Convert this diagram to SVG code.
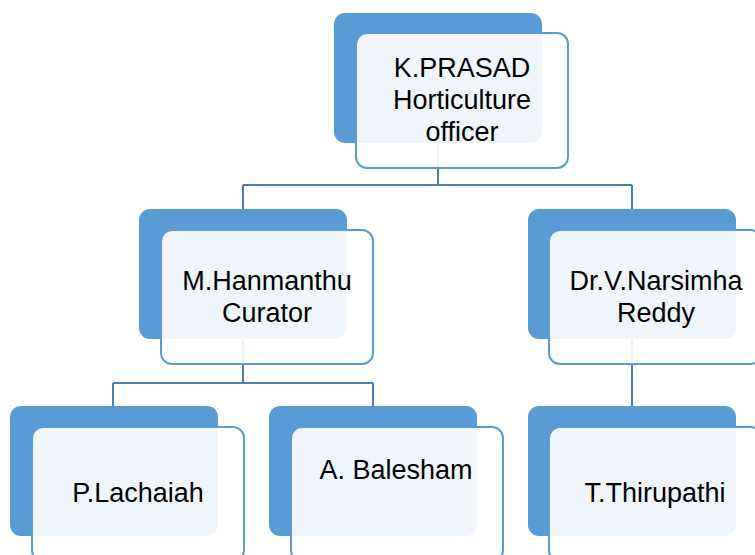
<svg xmlns="http://www.w3.org/2000/svg" width="755" height="555" viewBox="0 0 755 555">
<style>
.back{fill:#5B9BD5;}
.front{fill:#FFFFFF;fill-opacity:0.9;stroke:#5B9BD5;stroke-width:2;}
.conn{fill:none;stroke:#4A7EBB;stroke-width:2;}
text{font-family:"Liberation Sans",Arial,sans-serif;font-size:27px;fill:#000000;text-anchor:middle;}
</style>
<rect width="755" height="555" fill="#FFFFFF"/>
<g id="connectors">
<path class="conn" d="M438 143 V185 M243 185 H632 M243 185 V209 M632 185 V209"/>
<path class="conn" d="M243 339 V383 M113 383 H373 M113 383 V406 M373 383 V406"/>
<path class="conn" d="M632 339 V406"/>
</g>
<g id="n-prasad">
<rect class="back" x="334" y="13" width="208" height="130" rx="11"/>
<rect class="front" x="356" y="33" width="212" height="135" rx="11"/>
<text x="462" y="77">K.PRASAD</text>
<text x="462" y="109">Horticulture</text>
<text x="462" y="141">officer</text>
</g>
<g id="n-hanmanthu">
<rect class="back" x="139" y="209" width="208" height="130" rx="11"/>
<rect class="front" x="161" y="230" width="212" height="134" rx="11"/>
<text x="267" y="290">M.Hanmanthu</text>
<text x="267" y="322">Curator</text>
</g>
<g id="n-narsimha">
<rect class="back" x="528" y="209" width="208" height="130" rx="11"/>
<rect class="front" x="549" y="230" width="212" height="134" rx="11"/>
<text x="656" y="290">Dr.V.Narsimha</text>
<text x="656" y="322">Reddy</text>
</g>
<g id="n-lachaiah">
<rect class="back" x="10" y="406" width="208" height="130" rx="11"/>
<rect class="front" x="32" y="427" width="212" height="134" rx="11"/>
<text x="138" y="502">P.Lachaiah</text>
</g>
<g id="n-balesham">
<rect class="back" x="269" y="406" width="208" height="130" rx="11"/>
<rect class="front" x="291" y="427" width="212" height="134" rx="11"/>
<text x="396" y="479">A. Balesham</text>
</g>
<g id="n-thirupathi">
<rect class="back" x="528" y="406" width="208" height="130" rx="11"/>
<rect class="front" x="549" y="427" width="212" height="134" rx="11"/>
<text x="655" y="502">T.Thirupathi</text>
</g>
</svg>
